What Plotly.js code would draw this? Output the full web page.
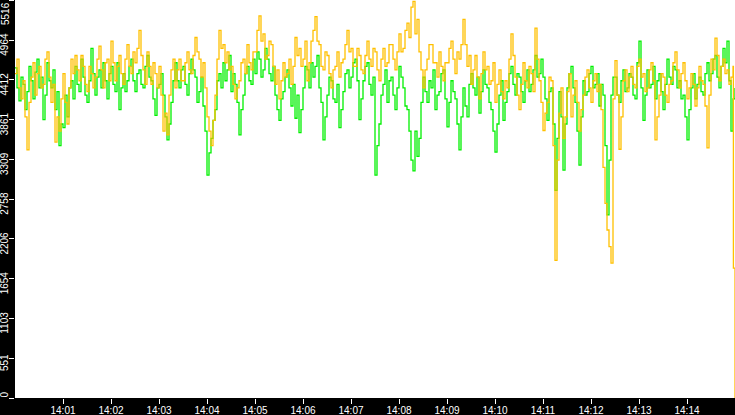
<!DOCTYPE html>
<html>
<head>
<meta charset="utf-8">
<script src="https://cdn.plot.ly/plotly-3.0.1.min.js"></script>
<style>
html,body{margin:0;padding:0;background:#000;}
#chart{width:735px;height:415px;}
</style>
</head>
<body>
<div id="chart"></div>
<script>
// one reading every 2.5 seconds starting 14:00:00
const startTime = '2024-01-01 14:00:00';
const stepSeconds = 2.5;

const greenValues = [
4580,4300,4120,4450,4350,4000,4250,4600,4400,4150,4520,4700,4300,4450,3860,4200,4650,4400,4300,4550,
4000,4250,3500,3800,3750,4200,3900,4300,4400,4150,4600,4350,4250,4700,4450,4200,4100,4400,4850,4500,
4200,4450,4550,4300,4650,4400,4150,4500,4600,4350,4250,4650,4000,4300,4500,4250,4400,4600,4700,4400,
4250,4500,4550,4350,4300,4600,4750,4450,4400,4150,3920,4300,4350,4500,4200,3900,3580,3800,4100,4400,
4650,4400,4300,4550,4600,4350,4200,4500,4700,4550,4450,4100,4250,4450,4050,3700,3090,3400,3600,3850,
4000,4400,4500,4300,4650,4400,4550,4750,4250,4500,4350,4100,3650,4000,4200,4500,4600,4400,4350,4700,
4500,4800,4700,4450,4550,4850,4700,4500,4400,4600,4200,4000,3850,4150,4250,4450,4550,4300,4050,4350,
3880,4200,3680,4000,4300,4600,4550,4300,4650,4450,4600,4750,4300,4100,3580,3900,4200,4450,4400,4150,
4100,4350,3750,4000,4250,4500,4550,4300,4450,4650,4700,4400,3860,4150,4400,4600,4650,4350,4200,4450,
3090,3500,3800,4200,4350,4550,4100,4400,4450,4200,4000,4300,4600,4450,4300,4050,4000,3700,3300,3150,
3700,3350,3600,4100,4450,4250,4100,4400,4300,4550,4000,4200,4250,4500,4550,4150,3760,4100,4400,4250,
4150,3800,3440,3900,4300,4050,3900,4350,4500,4300,4200,4450,3950,4250,4550,4350,4300,4100,4000,3700,
3410,3800,4200,4400,3850,4100,4250,4500,4600,4350,4200,4500,4450,4250,4100,4400,4550,4250,4350,4550,
4750,4450,4500,4700,4450,4150,3850,4250,4300,3800,2880,3600,4250,3900,3160,3800,4300,4500,4600,4300,
4100,3700,3230,3900,4400,4200,4250,4500,4600,4300,4350,4500,4050,4350,4200,3500,2540,3300,4200,4450,
4450,4200,4100,4400,4550,4250,4300,4500,4450,4200,4150,4650,4950,4300,3850,4200,4550,4300,4350,4600,
4150,4400,4500,4250,4000,4350,4700,4450,4350,4600,4550,4300,4400,4150,4200,3900,3580,4000,4300,4500,
4150,4350,4450,4250,4200,4500,4650,4400,4500,4700,4750,4450,4300,4600,4850,4650,4950,4400,3700,4150,
4300
];

const orangeValues = [
4500,4700,4300,4150,4400,3900,3440,4100,4450,4650,4200,4500,4600,4300,4350,4700,4800,4450,4100,4350,
3550,3900,3700,4150,4500,4100,3800,4300,4700,4500,4750,4550,4400,4750,4600,4350,4250,4600,4500,4300,
4450,4700,4880,4550,4300,4650,4700,4400,4950,4650,4400,4600,4750,4500,4350,4700,4900,4600,4500,4800,
4650,4850,5100,4750,4550,4350,4800,4600,4350,4650,4500,4300,4600,4200,3700,3950,3650,4200,4550,4700,
4300,4550,4700,4400,4400,4650,4800,4550,4500,4750,5000,4800,4700,4450,4650,4300,3900,3700,3500,3850,
4200,4700,5100,4850,4900,4650,4800,4550,4600,4350,4150,4300,4400,4650,4700,4500,4900,4650,4550,4800,
4800,5100,5300,4950,5050,4700,4750,4950,4900,4600,4350,4550,4150,4400,4650,4450,4500,4700,4350,4600,
5000,4750,4850,4600,4700,4950,4400,4650,4950,5100,5290,4950,4900,4600,4550,4800,4750,4500,4300,4550,
4600,4800,4450,4650,4700,4900,5100,4800,4850,4600,4600,4850,4750,4550,4500,4750,4950,4700,4600,4850,
4800,4550,4400,4700,4850,4600,4650,4900,4900,4700,4550,4800,5050,4800,4850,5100,5200,5000,5420,5500,
5050,5250,4800,4550,4300,4550,4700,4900,4900,4650,4650,4450,4800,4600,4400,4650,4650,4850,4950,4700,
4500,4800,4700,4900,5250,4900,4600,4750,4350,4550,4750,4450,4150,4500,4800,4550,4600,4350,4400,4650,
4100,4350,4550,4250,4150,4400,4300,4700,5050,4750,4450,4200,4000,4350,4650,4400,4300,4600,4500,4250,
5130,4700,4400,4100,3710,3950,4100,4450,4400,3500,1910,3300,3950,4300,3600,3900,4250,4500,3900,4200,
4400,4100,3700,4000,4200,4450,4550,4300,4100,4400,4500,4250,4350,4000,3200,2700,2330,2100,1870,4150,
4680,4200,3450,3900,4400,4550,4250,4450,4600,4350,4300,4600,4700,4450,4500,4250,4300,4550,4650,4400,
3580,3900,4200,4500,4450,4200,4100,4350,4400,4650,4800,4550,4300,4500,4650,4400,4150,4300,4500,4350,
4050,4300,4600,4400,4350,4050,3470,4200,4700,4550,4990,4750,4400,4600,4700,4500,4550,4350,4450,4600,
1800,0
];
// the last two orange readings come at 14:14:58 and 14:15:00
const orangeTailSeconds = [898, 900];

const yTickValues = [0,551,1103,1654,2206,2758,3309,3861,4412,4964,5516];
const yTickLabels = ['0','551','1103','1654','2206','2758','3309','3861','4412','4964','5516'];
const xTickLabels = ['14:01','14:02','14:03','14:04','14:05','14:06','14:07','14:08','14:09','14:10','14:11','14:12','14:13','14:14'];

function timeAt(sec){
  const t0 = new Date(startTime.replace(' ','T')+'Z').getTime();
  const d = new Date(t0 + sec*1000);
  return d.toISOString().replace('T',' ').replace('Z','');
}
const greenTimes = greenValues.map((v,i)=> i===greenValues.length-1 ? timeAt(900) : timeAt(i*stepSeconds));
const orangeTimes = orangeValues.map((v,i)=>{
  const nReg = orangeValues.length - orangeTailSeconds.length;
  return i < nReg ? timeAt(i*stepSeconds) : timeAt(orangeTailSeconds[i-nReg]);
});
const xTickVals = xTickLabels.map(l => '2024-01-01 ' + l + ':00');
// the first and last labels sit at the window edges, so they are drawn as annotations placed inside
const lastIdx = yTickLabels.length - 1;
const yTickText = yTickLabels.map((t,i)=> (i===0 || i===lastIdx) ? '' : t);

const tickFont = {family:'Liberation Sans, Arial, sans-serif', size:10, color:'#ffffff'};

const traces = [
  {x: greenTimes, y: greenValues, type:'scatter', mode:'lines',
   line:{color:'#00f000', width:1.3, shape:'hv'}, hoverinfo:'skip'},
  {x: orangeTimes, y: orangeValues, type:'scatter', mode:'lines',
   line:{color:'#ffc000', width:1.3, shape:'hv'}, hoverinfo:'skip'}
];

const layout = {
  width:735, height:415,
  margin:{l:15, r:0, t:0, b:17, pad:0},
  paper_bgcolor:'#000000',
  plot_bgcolor:'#ffffff',
  showlegend:false,
  xaxis:{
    type:'date',
    range:[timeAt(0), timeAt(900)],
    tickmode:'array', tickvals:xTickVals, ticktext:xTickLabels,
    ticks:'outside', ticklen:5, tickcolor:'#ffffff', tickwidth:1,
    ticklabelstandoff:-2,
    tickfont:tickFont, showgrid:false, zeroline:false, showline:false,
    automargin:false, fixedrange:true
  },
  yaxis:{
    range:[0,5520],
    tickmode:'array', tickvals:yTickValues, ticktext:yTickText,
    tickangle:-90, ticklabelstandoff:-3, ticklabelshift:6,
    ticks:'outside', ticklen:5, tickcolor:'#ffffff', tickwidth:1,
    tickfont:tickFont, showgrid:false, zeroline:false, showline:false,
    automargin:false, fixedrange:true
  },
  annotations:[
    {text: yTickLabels[lastIdx], textangle:-90, showarrow:false,
     xref:'paper', yref:'paper', x:0, y:1, xanchor:'right', yanchor:'top',
     xshift:-3, yshift:-1, font:tickFont, borderpad:0},
    {text: yTickLabels[0], textangle:-90, showarrow:false,
     xref:'paper', yref:'paper', x:0, y:0, xanchor:'right', yanchor:'bottom',
     xshift:-5, yshift:-1, font:tickFont, borderpad:0}
  ]
};
Plotly.newPlot('chart', traces, layout, {staticPlot:true, displayModeBar:false});
</script>
</body>
</html>
